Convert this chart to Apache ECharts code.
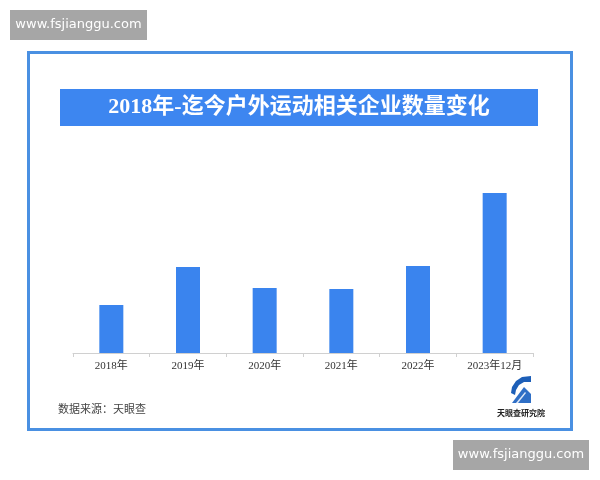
<!DOCTYPE html>
<html>
<head>
<meta charset="utf-8">
<script src="https://cdn.jsdelivr.net/npm/echarts@6/dist/echarts.min.js"></script>
<style>
  html, body { margin: 0; padding: 0; background: #fff; }
  #chart { width: 600px; height: 480px; }
</style>
</head>
<body>
<div id="chart"></div>
<script>
// categories and values (no y axis shown)
const categories = ["2018年", "2019年", "2020年", "2021年", "2022年", "2023年12月"];
const companyCounts = [4800, 8600, 6500, 6400, 8700, 16000];
const titleText = "2018年-迄今户外运动相关企业数量变化";
const sourceText = "数据来源：天眼查";
const watermark = "www.fsjianggu.com";

const myChart = echarts.init(document.getElementById("chart"));

const option = {
    backgroundColor: "#ffffff",
    animation: false,
    grid: {
        left: 73,
        right: 67,
        top: 153,
        bottom: 127
    },
    xAxis: {
        type: "category",
        data: categories,
        axisLine: { lineStyle: { color: "#d0d0d0", width: 1 } },
        axisTick: { show: true, length: 4, lineStyle: { color: "#d0d0d0" } },
        axisLabel: {
            color: "#333",
            fontSize: 11,
            fontFamily: "Liberation Serif, Noto Sans CJK SC",
            margin: 8
        }
    },
    yAxis: {
        type: "value",
        min: 0,
        max: 20000,
        show: false,
        splitLine: { show: false }
    },
    series: [
        {
            type: "bar",
            data: companyCounts,
            barWidth: 24,
            itemStyle: { color: "#3a84ee" }
        }
    ],
    graphic: [
        // outer frame
        {
            type: "rect",
            shape: { x: 28.5, y: 52.5, width: 543, height: 377 },
            style: { fill: "none", stroke: "#4a90e2", lineWidth: 3 },
            z: 10
        },
        // title bar
        {
            type: "rect",
            shape: { x: 60, y: 89, width: 478, height: 37 },
            style: { fill: "#3d86f0" },
            z: 10
        },
        {
            type: "text",
            x: 299,
            y: 107.5,
            style: {
                text: titleText,
                fill: "#fff",
                font: "bold 22px 'Liberation Serif', 'Noto Sans CJK SC'",
                textAlign: "center",
                textVerticalAlign: "middle"
            },
            z: 11
        },
        // source note
        {
            type: "text",
            x: 58,
            y: 409,
            style: {
                text: sourceText,
                fill: "#444",
                font: "11px 'Noto Sans CJK SC'",
                textAlign: "left",
                textVerticalAlign: "middle"
            },
            z: 11
        },
        // logo
        {
            type: "polygon",
            shape: { points: [[511, 393], [512, 387], [516, 381], [522, 377], [531, 376], [531, 382], [524, 382], [519, 385], [516, 390], [515, 395]] },
            style: { fill: "#1d5fb8" },
            z: 11
        },
        {
            type: "polygon",
            shape: { points: [[512, 403], [524, 387], [531, 394], [531, 403]] },
            style: { fill: "#2f6fc6" },
            z: 11
        },
        {
            type: "polygon",
            shape: { points: [[516, 403], [525, 392], [526, 393], [518, 403]] },
            style: { fill: "#dfe9f7" },
            z: 12
        },
        {
            type: "text",
            x: 521,
            y: 413,
            style: {
                text: "天眼查研究院",
                fill: "#222",
                font: "bold 8px 'Noto Sans CJK SC'",
                textAlign: "center",
                textVerticalAlign: "middle"
            },
            z: 11
        },
        // watermarks
        {
            type: "rect",
            shape: { x: 10, y: 10, width: 137, height: 30 },
            style: { fill: "#a6a6a6" },
            z: 20
        },
        {
            type: "text",
            x: 78.5,
            y: 25,
            style: {
                text: watermark,
                fill: "#fff",
                font: "13px 'DejaVu Sans'",
                textAlign: "center",
                textVerticalAlign: "middle"
            },
            z: 21
        },
        {
            type: "rect",
            shape: { x: 453, y: 440, width: 136, height: 30 },
            style: { fill: "#a6a6a6" },
            z: 20
        },
        {
            type: "text",
            x: 521,
            y: 455,
            style: {
                text: watermark,
                fill: "#fff",
                font: "13px 'DejaVu Sans'",
                textAlign: "center",
                textVerticalAlign: "middle"
            },
            z: 21
        }
    ]
};

myChart.setOption(option);
</script>
</body>
</html>
